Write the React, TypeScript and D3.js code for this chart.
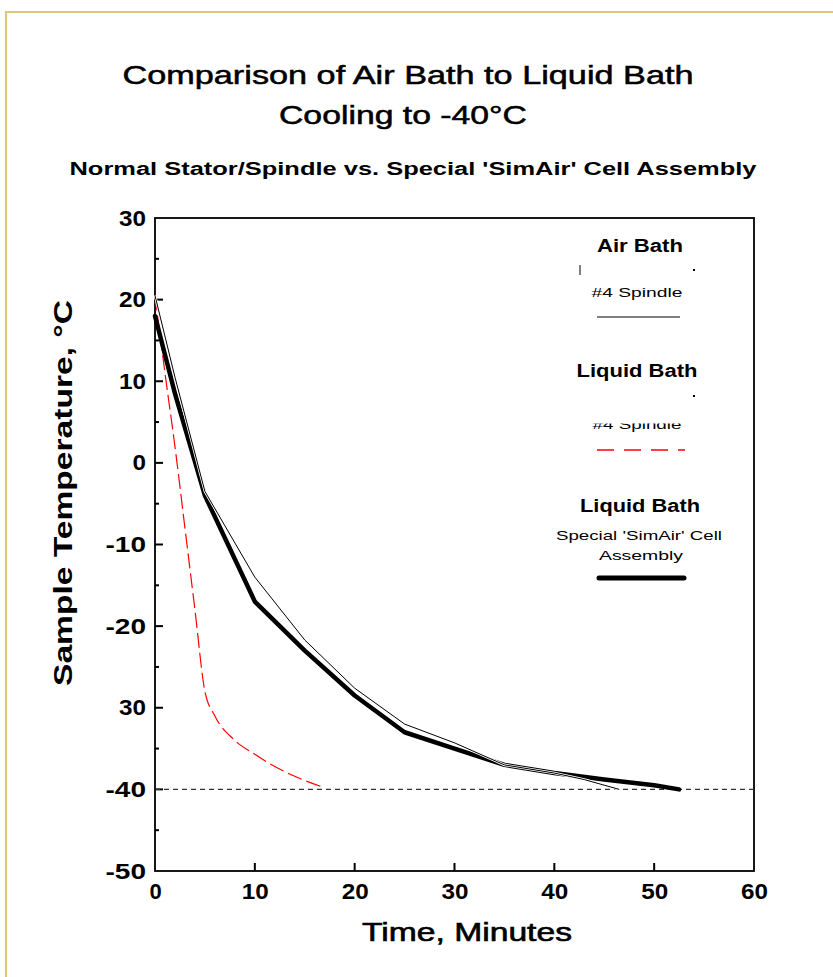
import React, { useEffect, useRef } from "react";
import * as d3 from "d3";

// values (minutes, °C)
const airBath4 = [
  [0, 20.5], [2, 10.5], [5, -3.5], [10, -14], [15, -21.7], [20, -27.6],
  [25, -32], [30, -34.3], [35, -37], [40, -38], [43, -38.8], [46.5, -40],
];
const liquid4 = [
  [0, 20.5], [1, 11], [2, 2], [3, -8], [4, -18], [5, -28], [6, -31],
  [8, -34], [10, -35.7], [12, -37.2], [14, -38.4], [17, -39.8],
];
const liquidSimAir = [
  [0, 18], [2, 8.5], [5, -4], [10, -17], [15, -23], [20, -28.5],
  [25, -33], [30, -35], [35, -37], [40, -38], [45, -38.8], [50, -39.5], [52.5, -40],
];
const xTicks = [0, 10, 20, 30, 40, 50, 60];
const yTicks = [-50, -40, -30, -20, -10, 0, 10, 20, 30];
// the original drops the minus sign on -30
const yTickLabels = ["-50", "-40", "30", "-20", "-10", "0", "10", "20", "30"];
const yMinor = [-45, -35, -25, -15, -5, 5, 15, 25];
const target = -40;

const FONT = "'Liberation Sans', Arial, sans-serif";

export default function App() {
  const ref = useRef<SVGSVGElement>(null);

  useEffect(() => {
    const width = 833;
    const height = 977;
    const left = 155, right = 754, top = 218, bottom = 871;

    const svg = d3.select(ref.current);
    svg.selectAll("*").remove();
    svg.attr("width", width).attr("height", height);

    svg.append("rect").attr("width", width).attr("height", height).attr("fill", "#fff");

    // tan page border (left + top)
    svg.append("path")
      .attr("d", `M6,${height} V12 H${width}`)
      .attr("fill", "none")
      .attr("stroke", "#dcc77c")
      .attr("stroke-width", 2.2);

    const x = d3.scaleLinear().domain([0, 60]).range([left, right]);
    const y = d3.scaleLinear().domain([-50, 30]).range([bottom, top]);

    // titles
    const titles = [
      { t: "Comparison of Air Bath to Liquid Bath", x: 408, y: 84, size: 25, w: 571, bold: false },
      { t: "Cooling to -40°C", x: 403, y: 124, size: 25, w: 248, bold: false },
      { t: "Normal Stator/Spindle vs. Special 'SimAir' Cell Assembly", x: 413, y: 175, size: 18, w: 687, bold: true },
    ];
    svg.append("g").selectAll("text").data(titles).join("text")
      .attr("x", d => d.x).attr("y", d => d.y)
      .attr("text-anchor", "middle")
      .attr("font-family", FONT)
      .attr("font-size", d => d.size)
      .attr("font-weight", d => d.bold ? "bold" : "normal")
      .attr("stroke", d => d.bold ? null : "#000")
      .attr("stroke-width", 0.5)
      .attr("textLength", d => d.w)
      .attr("lengthAdjust", "spacingAndGlyphs")
      .text(d => d.t);

    // axis labels (ticks drawn by hand below, pointing inward)
    const gy = svg.append("g").attr("transform", `translate(${left},0)`)
      .call(d3.axisLeft(y).tickValues(yTicks).tickSize(0).tickPadding(9)
        .tickFormat((_, i) => yTickLabels[i]));
    const gx = svg.append("g").attr("transform", `translate(0,${bottom})`)
      .call(d3.axisBottom(x).tickValues(xTicks).tickSize(0).tickPadding(12));
    [gy, gx].forEach(g => {
      g.select(".domain").remove();
      g.selectAll("line").remove();
      g.selectAll("text")
        .attr("font-family", FONT)
        .attr("font-size", 22)
        .attr("font-weight", "bold")
        .attr("fill", "#000");
    });
    gy.selectAll("text").attr("textLength", function () {
      const s = (this as SVGTextElement).textContent || "";
      return s.length * 13.5;
    }).attr("lengthAdjust", "spacingAndGlyphs");
    gx.selectAll("text").attr("textLength", 27).attr("lengthAdjust", "spacingAndGlyphs")
      .filter((d: any) => d === 0).attr("textLength", null);

    const ticks = svg.append("g").attr("stroke", "#000").attr("stroke-width", 2);
    ticks.selectAll("line.ym").data(yTicks.filter(d => d > -50 && d < 30)).join("line")
      .attr("class", "ym")
      .attr("x1", left).attr("x2", left + 8)
      .attr("y1", d => y(d)).attr("y2", d => y(d));
    ticks.selectAll("line.yn").data(yMinor).join("line")
      .attr("class", "yn")
      .attr("x1", left).attr("x2", left + 4)
      .attr("y1", d => y(d)).attr("y2", d => y(d));
    ticks.selectAll("line.xm").data(xTicks.filter(d => d > 0 && d < 60)).join("line")
      .attr("class", "xm")
      .attr("x1", d => x(d)).attr("x2", d => x(d))
      .attr("y1", bottom).attr("y2", bottom - 8);

    // frame
    svg.append("rect")
      .attr("x", left).attr("y", top)
      .attr("width", right - left).attr("height", bottom - top)
      .attr("fill", "none").attr("stroke", "#000").attr("stroke-width", 1.8);

    // axis titles
    svg.append("text")
      .attr("transform", `translate(72,493) rotate(-90)`)
      .attr("text-anchor", "middle")
      .attr("font-family", FONT).attr("font-size", 26).attr("font-weight", "bold")
      .attr("textLength", 386).attr("lengthAdjust", "spacingAndGlyphs")
      .text("Sample Temperature, °C");
    svg.append("text")
      .attr("x", 467).attr("y", 941)
      .attr("text-anchor", "middle")
      .attr("font-family", FONT).attr("font-size", 25)
      .attr("textLength", 210).attr("lengthAdjust", "spacingAndGlyphs")
      .attr("stroke", "#000").attr("stroke-width", 0.6)
      .text("Time, Minutes");

    // -40 target line
    svg.append("line")
      .attr("x1", x(0)).attr("x2", x(60))
      .attr("y1", y(target)).attr("y2", y(target))
      .attr("stroke", "#333").attr("stroke-width", 1.4)
      .attr("stroke-dasharray", "5,4");

    const line = d3.line<number[]>().x(d => x(d[0])).y(d => y(d[1]));
    const smooth = d3.line<number[]>().x(d => x(d[0])).y(d => y(d[1])).curve(d3.curveMonotoneX);

    svg.append("path").datum(liquid4)
      .attr("d", smooth).attr("fill", "none")
      .attr("stroke", "#ff0000").attr("stroke-width", 1.2)
      .attr("stroke-dasharray", "15,5");
    svg.append("path").datum(liquidSimAir)
      .attr("d", line).attr("fill", "none")
      .attr("stroke", "#000").attr("stroke-width", 4.5)
      .attr("stroke-linejoin", "round").attr("stroke-linecap", "round");
    // thin line drawn with a white halo so it reads apart from the thick one
    svg.append("path").datum(airBath4)
      .attr("d", line).attr("fill", "none")
      .attr("stroke", "#fff").attr("stroke-width", 2.6);
    svg.append("path").datum(airBath4)
      .attr("d", line).attr("fill", "none")
      .attr("stroke", "#000").attr("stroke-width", 1);

    // legend
    const lg = svg.append("g").attr("font-family", FONT).attr("text-anchor", "middle");
    const legendText = [
      { t: "Air Bath", x: 640, y: 252, size: 18, w: 86, bold: true, clip: false },
      { t: "#4 Spindle", x: 637, y: 297, size: 13.5, w: 91, bold: false, clip: false },
      { t: "Liquid Bath", x: 637, y: 377, size: 18, w: 121, bold: true, clip: false },
      { t: "#4 Spindle", x: 637, y: 429, size: 13.5, w: 89, bold: false, clip: true },
      { t: "Liquid Bath", x: 640, y: 512, size: 18, w: 120, bold: true, clip: false },
      { t: "Special 'SimAir' Cell", x: 639, y: 540, size: 13.5, w: 166, bold: false, clip: false },
      { t: "Assembly", x: 641, y: 560, size: 13.5, w: 84, bold: false, clip: false },
    ];
    svg.append("clipPath").attr("id", "cut")
      .append("rect").attr("x", 560).attr("y", 423.5).attr("width", 180).attr("height", 20);
    lg.selectAll("text").data(legendText).join("text")
      .attr("x", d => d.x).attr("y", d => d.y)
      .attr("font-size", d => d.size)
      .attr("font-weight", d => d.bold ? "bold" : "normal")
      .attr("textLength", d => d.w)
      .attr("lengthAdjust", "spacingAndGlyphs")
      .attr("clip-path", d => d.clip ? "url(#cut)" : null)
      .text(d => d.t);

    const swatches = [
      { y: 317, stroke: "#000", w: 1.2, dash: null, x1: 597, x2: 680, cap: "butt" },
      { y: 450, stroke: "#ff0000", w: 1.6, dash: "17,10", x1: 597, x2: 685, cap: "butt" },
      { y: 578, stroke: "#000", w: 5, dash: null, x1: 599, x2: 684, cap: "round" },
    ];
    lg.selectAll("line.sw").data(swatches).join("line")
      .attr("class", "sw")
      .attr("x1", d => d.x1).attr("x2", d => d.x2)
      .attr("y1", d => d.y).attr("y2", d => d.y)
      .attr("stroke", d => d.stroke).attr("stroke-width", d => d.w)
      .attr("stroke-dasharray", d => d.dash)
      .attr("stroke-linecap", d => d.cap);

    // stray marks left in the original legend
    lg.append("line").attr("x1", 580).attr("x2", 580).attr("y1", 265).attr("y2", 275)
      .attr("stroke", "#000").attr("stroke-width", 1);
    lg.selectAll("rect.dot").data([269, 395]).join("rect")
      .attr("class", "dot")
      .attr("x", 693).attr("y", d => d).attr("width", 2).attr("height", 2).attr("fill", "#000");
  }, []);

  return <svg ref={ref} style={{ position: "absolute", left: 0, top: 0, display: "block" }} />;
}
